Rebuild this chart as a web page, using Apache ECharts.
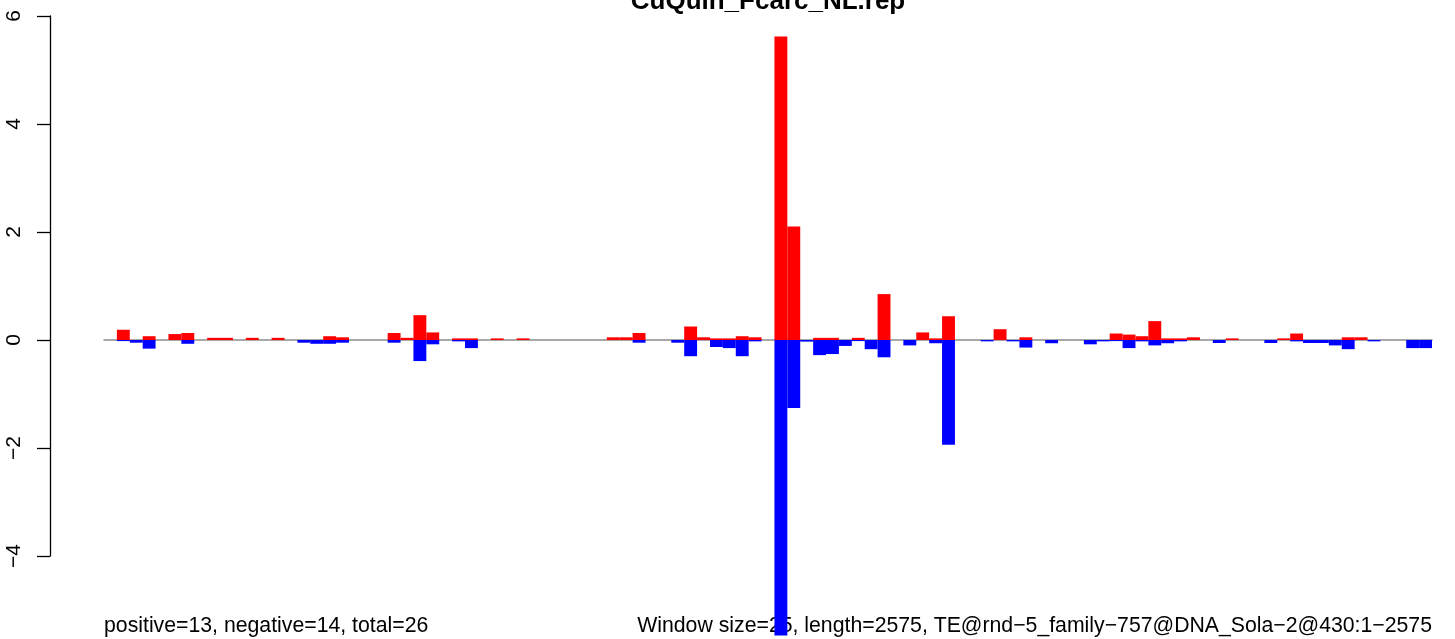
<!DOCTYPE html>
<html lang="en">
  <head>
    <meta charset="UTF-8" />
    <title>CuQuin_Fcarc_NL.rep</title>
    <script src="https://cdn.jsdelivr.net/npm/echarts@6/dist/echarts.min.js"></script>
    <style>
      html, body { margin: 0; padding: 0; background: #fff; }
    </style>
  </head>
  <body>
    <div id="main" style="width: 1455px; height: 639px"></div>
    <script type="text/javascript">
      // 103 windows of 25 bp over a 2575 bp element
      const windows = Array.from({ length: 103 }, (_, i) => String(i + 1));

      // positive strand values (red), one per window
      const positive = [
        0, 0.19, 0, 0.07, 0, 0.11, 0.13, 0, 0.04, 0.04,
        0, 0.04, 0, 0.04, 0, 0, 0, 0.07, 0.05, 0,
        0, 0, 0.13, 0.04, 0.46, 0.14, 0, 0.03, 0.03, 0,
        0.03, 0, 0.03, 0, 0, 0, 0, 0, 0, 0.05,
        0.05, 0.13, 0, 0, 0, 0.25, 0.05, 0.03, 0.03, 0.07,
        0.05, 0, 5.62, 2.1, 0, 0.04, 0.04, 0, 0.04, 0,
        0.85, 0, 0, 0.14, 0.03, 0.44, 0, 0, 0, 0.2,
        0, 0.05, 0, 0, 0, 0, 0, 0, 0.12, 0.1,
        0.07, 0.35, 0.03, 0.03, 0.05, 0, 0, 0.03, 0, 0,
        0, 0.03, 0.12, 0, 0, 0, 0.05, 0.05, 0, 0,
        0, 0, 0
      ];

      // negative strand values (blue)
      const negative = [
        0, -0.02, -0.05, -0.16, 0, 0, -0.07, 0, 0, 0,
        0, 0, 0, 0, 0, -0.05, -0.07, -0.07, -0.05, 0,
        0, 0, -0.05, 0, -0.39, -0.08, 0, -0.025, -0.15, 0,
        0, 0, 0, 0, 0, 0, 0, 0, 0, 0,
        0, -0.05, 0, 0, -0.05, -0.3, 0, -0.13, -0.15, -0.3,
        -0.025, 0, -5.47, -1.26, -0.03, -0.28, -0.26, -0.11, -0.02, -0.17,
        -0.32, 0, -0.1, 0, -0.06, -1.94, 0, 0, -0.025, 0,
        -0.025, -0.14, 0, -0.06, 0, 0, -0.08, -0.025, -0.02, -0.15,
        -0.025, -0.1, -0.06, -0.025, 0, 0, -0.056, 0, 0, 0,
        -0.056, 0, -0.025, -0.056, -0.056, -0.1, -0.17, 0, -0.025, 0,
        0, -0.15, -0.15
      ];

      const yTicks = [-4, -2, 0, 2, 4, 6];

      const titleText = "CuQuin_Fcarc_NL.rep";
      const leftNote = "positive=13, negative=14, total=26";
      const rightNote =
        "Window size=25, length=2575, TE@rnd\u22125_family\u2212757@DNA_Sola\u22122@430:1\u22122575";

      const font = "'Liberation Sans', Arial, Helvetica, sans-serif";

      // 54 px per unit, zero at y=340; the plot runs off the bottom of the page
      let options = {
        animation: false,
        backgroundColor: "#fff",
        grid: [
          // bars: 6 at top (y=16), the page bottom (y=639) sits at about -5.54
          { left: 104, right: 23, top: 16, bottom: 0 },
          // y axis only, R style (line spans from -4 to 6)
          { left: 50, width: 20, top: 16, height: 540 },
        ],
        xAxis: [
          {
            type: "category",
            gridIndex: 0,
            data: windows,
            axisLine: { onZero: true, lineStyle: { color: "#8c8c8c", width: 1.5 } },
            axisTick: { show: false },
            axisLabel: { show: false },
            splitLine: { show: false },
            z: 0,
          },
          { type: "value", gridIndex: 1, show: false },
        ],
        yAxis: [
          {
            type: "value",
            gridIndex: 0,
            min: -5.537,
            max: 6,
            show: false,
          },
          {
            type: "value",
            gridIndex: 1,
            min: yTicks[0],
            max: yTicks[yTicks.length - 1],
            interval: 2,
            axisLine: { show: true, lineStyle: { color: "#000", width: 1.3 } },
            axisTick: { show: true, length: 13, lineStyle: { color: "#000", width: 1.3 } },
            splitLine: { show: false },
            axisLabel: {
              rotate: 90,
              margin: 25,
              fontSize: 21,
              fontFamily: font,
              color: "#000",
              formatter: (v) => String(v).replace("-", "\u2212"),
            },
          },
        ],
        series: [
          {
            name: "positive",
            type: "bar",
            xAxisIndex: 0,
            yAxisIndex: 0,
            data: positive,
            barGap: "-100%",
            barCategoryGap: "0%",
            itemStyle: { color: "#ff0000" },
          },
          {
            name: "negative",
            type: "bar",
            xAxisIndex: 0,
            yAxisIndex: 0,
            data: negative,
            barGap: "-100%",
            barCategoryGap: "0%",
            itemStyle: { color: "#0000ff" },
          },
        ],
        graphic: [
          {
            type: "text",
            x: 768,
            y: 2,
            style: {
              text: titleText,
              font: "bold 26px " + font,
              fill: "#000",
              textAlign: "center",
              textVerticalAlign: "middle",
            },
          },
          {
            type: "text",
            x: 104,
            y: 626,
            style: {
              text: leftNote,
              font: "21.25px " + font,
              fill: "#000",
              textAlign: "left",
              textVerticalAlign: "middle",
            },
            z: 10,
          },
          {
            type: "text",
            x: 1432,
            y: 626,
            style: {
              text: rightNote,
              font: "21.25px " + font,
              fill: "#000",
              textAlign: "right",
              textVerticalAlign: "middle",
            },
            z: -1,
          },
        ],
      };

      let myChart = echarts.init(document.getElementById("main"));
      myChart.setOption(options);
    </script>
  </body>
</html>
